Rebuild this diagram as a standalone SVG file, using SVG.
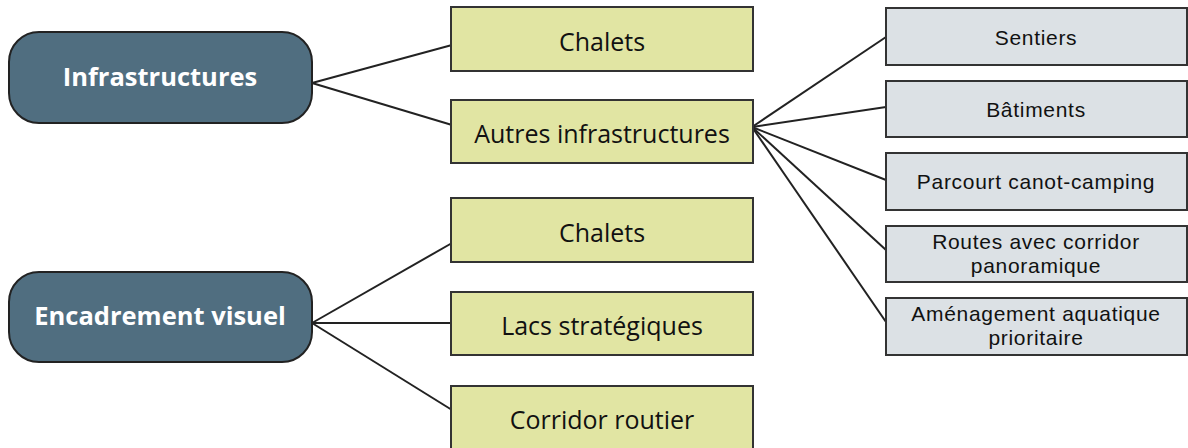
<svg xmlns="http://www.w3.org/2000/svg" width="1188" height="448" viewBox="0 0 1188 448">
<style>
.main{fill:#506e80;stroke:#222;stroke-width:2}
.yel{fill:#e1e5a3;stroke:#333;stroke-width:2}
.gry{fill:#dce1e5;stroke:#333;stroke-width:2}
.tm{font-family:"Open Sans","Liberation Sans",sans-serif;font-weight:bold;font-size:25.5px;fill:#fff;text-anchor:middle}
.ty{font-family:"Open Sans","Liberation Sans",sans-serif;font-size:25px;fill:#111;text-anchor:middle}
.tg{font-family:"Liberation Sans",Arial,sans-serif;font-size:21px;letter-spacing:0.7px;fill:#111;text-anchor:middle}
.c{stroke:#222;stroke-width:2;fill:none}
</style>
<rect width="1188" height="448" fill="#fff"/>
<g id="connectors">
<line class="c" x1="312" y1="83" x2="452" y2="45"/>
<line class="c" x1="312" y1="83" x2="452" y2="125"/>
<line class="c" x1="312" y1="323" x2="452" y2="243"/>
<line class="c" x1="312" y1="323" x2="452" y2="323"/>
<line class="c" x1="312" y1="323" x2="452" y2="410"/>
<line class="c" x1="752" y1="127" x2="886" y2="37"/>
<line class="c" x1="752" y1="127" x2="886" y2="107"/>
<line class="c" x1="752" y1="127" x2="886" y2="180"/>
<line class="c" x1="752" y1="127" x2="886" y2="250"/>
<line class="c" x1="752" y1="127" x2="886" y2="322"/>
</g>
<g id="n-infra"><rect class="main" x="9" y="32" width="303" height="91" rx="30"/><text class="tm" x="160" y="86">Infrastructures</text></g>
<g id="n-encad"><rect class="main" x="9" y="272" width="303" height="90" rx="30"/><text class="tm" x="160" y="325">Encadrement visuel</text></g>
<g id="n-chalets1"><rect class="yel" x="451" y="7" width="302" height="64"/><text class="ty" x="602" y="51">Chalets</text></g>
<g id="n-autres"><rect class="yel" x="451" y="100" width="302" height="63"/><text class="ty" x="602" y="143">Autres infrastructures</text></g>
<g id="n-chalets2"><rect class="yel" x="451" y="198" width="302" height="64"/><text class="ty" x="602" y="242">Chalets</text></g>
<g id="n-lacs"><rect class="yel" x="451" y="292" width="302" height="63"/><text class="ty" x="602" y="335">Lacs stratégiques</text></g>
<g id="n-corridor"><rect class="yel" x="451" y="386" width="302" height="64"/><text class="ty" x="602" y="429">Corridor routier</text></g>
<g id="n-sentiers"><rect class="gry" x="886" y="8" width="301" height="57"/><text class="tg" x="1036" y="45">Sentiers</text></g>
<g id="n-batiments"><rect class="gry" x="886" y="81" width="301" height="56"/><text class="tg" x="1036" y="117">Bâtiments</text></g>
<g id="n-parcourt"><rect class="gry" x="886" y="153" width="301" height="57"/><text class="tg" x="1036" y="189">Parcourt canot-camping</text></g>
<g id="n-routes"><rect class="gry" x="886" y="226" width="301" height="56"/><text class="tg" x="1036" y="249">Routes avec corridor</text><text class="tg" x="1036" y="273">panoramique</text></g>
<g id="n-amenag"><rect class="gry" x="886" y="298" width="301" height="57"/><text class="tg" x="1036" y="321">Aménagement aquatique</text><text class="tg" x="1036" y="345">prioritaire</text></g>
</svg>
